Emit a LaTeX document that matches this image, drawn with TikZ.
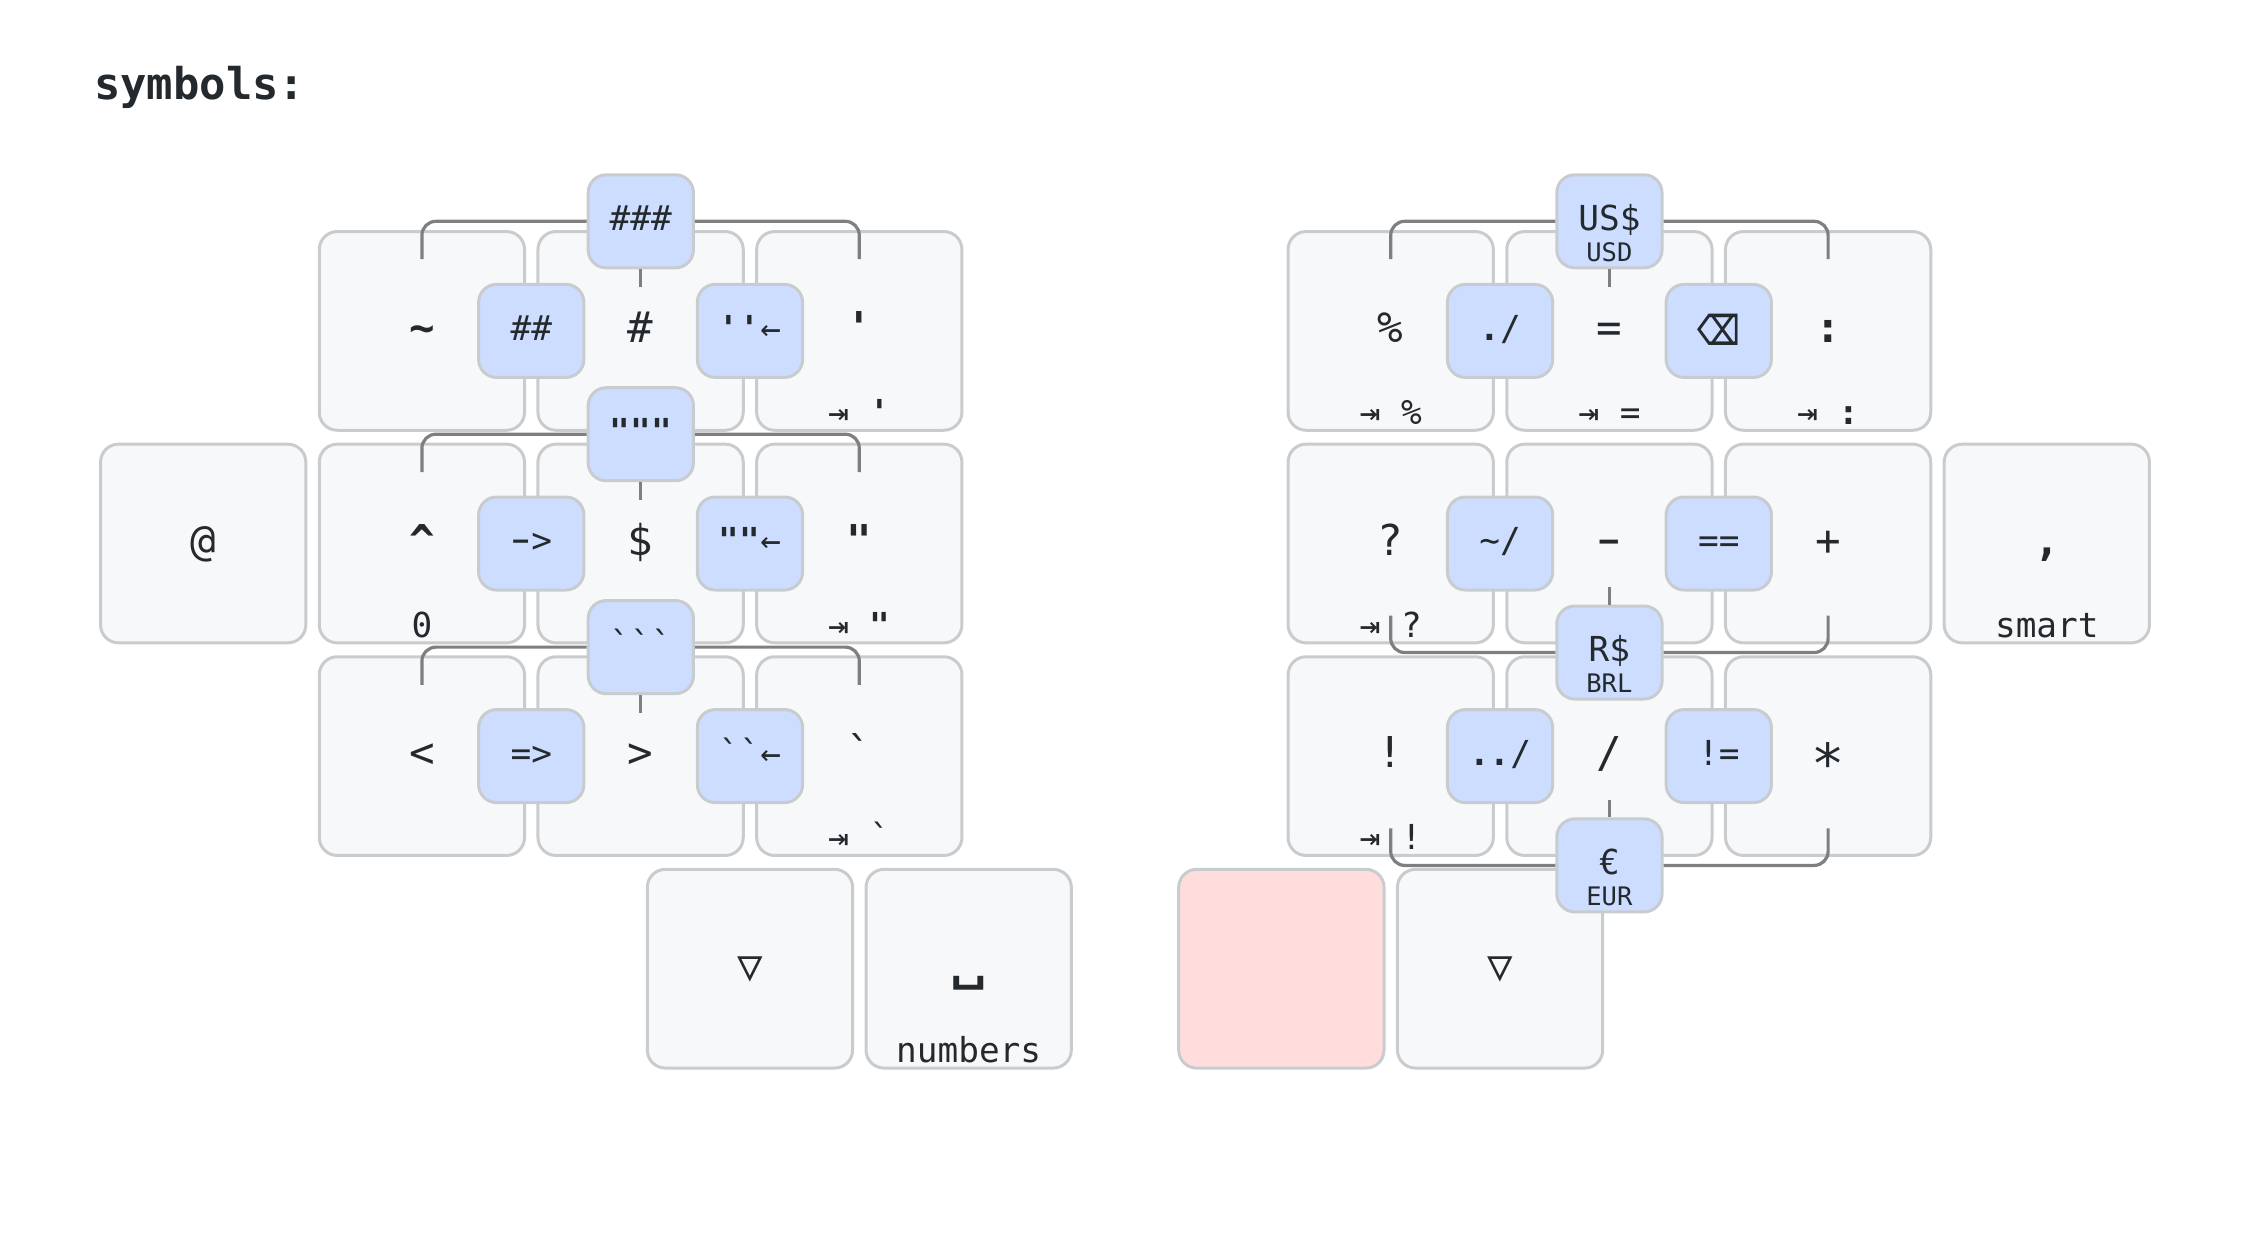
\documentclass[tikz,border=0pt]{standalone}
\usepackage{fontspec}
\usepackage{graphicx}
\usetikzlibrary{calc}
\newfontfamily\keyfont{DejaVu Sans Mono}
\newfontfamily\iconfont{DejaVu Sans}
\definecolor{keyfill}{HTML}{F6F8FA}
\definecolor{keyline}{HTML}{C9CCCF}
\definecolor{combofill}{HTML}{CCDDFF}
\definecolor{heldfill}{HTML}{FFDDDD}
\definecolor{wireline}{HTML}{7F7F7F}
\definecolor{legend}{HTML}{24292E}
\def\heavy#1{{\bfseries #1}}
\def\longdash{\makebox[.602em]{\scalebox{1.7}[1.15]{-}}}
\def\bigstar{\makebox[.602em]{\raisebox{-.36em}{\scalebox{1.3}{*}}}}
\tikzset{
	keycap/.style={draw=keyline, fill=keyfill, line width=3pt, rounded corners=18pt, inner sep=0pt,
		minimum width=205.3pt, minimum height=198.7pt, text=legend,
		font=\keyfont\fontsize{42.5}{50}\selectfont, text height=23.2pt, text depth=0pt},
	heldcap/.style={keycap, fill=heldfill},
	combocap/.style={draw=keyline, fill=combofill, line width=3pt, rounded corners=18pt, inner sep=0pt,
		minimum width=105.3pt, minimum height=93pt, text=legend,
		font=\keyfont\fontsize{34.4}{40}\selectfont, text height=18.8pt, text depth=0pt},
	holdtext/.style={anchor=base, inner sep=0pt, text=legend, font=\keyfont\fontsize{34.4}{40}\selectfont},
	subtext/.style={anchor=base, inner sep=0pt, text=legend, font=\keyfont\fontsize{25.5}{30}\selectfont},
	wire/.style={draw=wireline, line width=3.2pt},
	wirebend/.style={wire, rounded corners=14pt},
}

\begin{document}
\begin{tikzpicture}[x=1pt, y=-1pt]
	\useasboundingbox (0, 0) rectangle (2250, 1250);
	
	\node[anchor=base west, inner sep=0pt, text=legend, font=\keyfont\bfseries\fontsize{43.8}{50}\selectfont] (title) at (94, 99.3) {symbols:};
	
	%%%%% left hand %%%%%
	\node[keycap] (kTilde) at (421.9, 330.9) {\heavy{\textasciitilde}};
	\node[keycap] (kHash) at (640.6, 330.9) {\#};
	\node[keycap] (kApos) at (859.3, 330.9) {\heavy{'}};
	\node[keycap] (kAt) at (203.2, 543.5) {@};
	\node[keycap] (kCaret) at (421.9, 543.5) {\heavy{\textasciicircum}};
	\node[keycap] (kDollar) at (640.6, 543.5) {\$};
	\node[keycap] (kQuote) at (859.3, 543.5) {\heavy{"}};
	\node[keycap] (kLess) at (421.9, 756.1) {<};
	\node[keycap] (kMore) at (640.6, 756.1) {>};
	\node[keycap] (kGrave) at (859.3, 756.1) {`};
	\node[keycap] (kTrigL) at (749.95, 968.7) {▽};
	\node[keycap] (kSpace) at (968.65, 968.7) {\iconfont\heavy{\scalebox{1.2}[1]{␣}}};
	
	%%%%% right hand %%%%%
	\node[keycap] (kPercent) at (1390.7, 330.9) {\%};
	\node[keycap] (kEqual) at (1609.4, 330.9) {=};
	\node[keycap] (kColon) at (1828.1, 330.9) {\heavy{:}};
	\node[keycap] (kQuestion) at (1390.7, 543.5) {?};
	\node[keycap] (kMinus) at (1609.4, 543.5) {\longdash};
	\node[keycap] (kPlus) at (1828.1, 543.5) {+};
	\node[keycap] (kComma) at (2046.8, 543.5) {\heavy{,}};
	\node[keycap] (kBang) at (1390.7, 756.1) {!};
	\node[keycap] (kSlash) at (1609.4, 756.1) {/};
	\node[keycap] (kStar) at (1828.1, 756.1) {\bigstar};
	\node[heldcap] (kHeld) at (1281.35, 968.7) {};
	\node[keycap] (kTrigR) at (1500.05, 968.7) {▽};
	
	%%%%% hold legends %%%%%
	\node[holdtext] (hApos) at ($(kApos)+(0, 93.6)$) {⇥ \heavy{'}};
	\node[holdtext] (hZero) at ($(kCaret)+(0, 93.6)$) {0};
	\node[holdtext] (hQuote) at ($(kQuote)+(0, 93.6)$) {⇥ \heavy{"}};
	\node[holdtext] (hGrave) at ($(kGrave)+(0, 93.6)$) {⇥ `};
	\node[holdtext] (hSpace) at ($(kSpace)+(0, 93.6)$) {numbers};
	\node[holdtext] (hPercent) at ($(kPercent)+(0, 93.6)$) {⇥ \%};
	\node[holdtext] (hEqual) at ($(kEqual)+(0, 93.6)$) {⇥ =};
	\node[holdtext] (hColon) at ($(kColon)+(0, 93.6)$) {⇥ \heavy{:}};
	\node[holdtext] (hQuestion) at ($(kQuestion)+(0, 93.6)$) {⇥ ?};
	\node[holdtext] (hComma) at ($(kComma)+(0, 93.6)$) {smart};
	\node[holdtext] (hBang) at ($(kBang)+(0, 93.6)$) {⇥ !};
	
	%%%%% combos %%%%%
	\node[combocap] (cTriple) at (640.8, 221.3) {\#\#\#};
	\node[combocap] (cDouble) at (531.25, 330.9) {\#\#};
	\node[combocap] (cAposBack) at (749.95, 330.9) {\heavy{''}←};
	\node[combocap] (cQuotes) at (640.8, 434.2) {\heavy{"""}};
	\node[combocap] (cArrow) at (531.25, 543.5) {\longdash>};
	\node[combocap] (cQuoteBack) at (749.95, 543.5) {\heavy{""}←};
	\node[combocap] (cGraves) at (640.8, 647.1) {```};
	\node[combocap] (cFat) at (531.25, 756.1) {=>};
	\node[combocap] (cGraveBack) at (749.95, 756.1) {``←};
	
	\node[combocap] (cUsd) at (1609.4, 221.3) {US\$};
	\node[combocap] (cHere) at (1500.05, 330.9) {\heavy{.}/};
	\node[combocap] (cBksp) at (1718.75, 330.9) {\iconfont\bfseries\raisebox{-.14em}{\scalebox{.88}[1.2]{⌫}}};
	\node[combocap] (cHome) at (1500.05, 543.5) {\textasciitilde/};
	\node[combocap] (cSame) at (1718.75, 543.5) {==};
	\node[combocap] (cBrl) at (1609.4, 652.5) {R\$};
	\node[combocap] (cUp) at (1500.05, 756.1) {\heavy{..}/};
	\node[combocap] (cDiff) at (1718.75, 756.1) {!=};
	\node[combocap] (cEur) at (1609.4, 865.4) {€};
	
	\node[subtext] (sUsd) at ($(cUsd)+(0, 40.2)$) {USD};
	\node[subtext] (sBrl) at ($(cBrl)+(0, 40.2)$) {BRL};
	\node[subtext] (sEur) at ($(cEur)+(0, 40.2)$) {EUR};
	
	%%%%% combo wires %%%%%
	\coordinate (wTripleA) at (421.9, 259);
	\coordinate (wTripleB) at (640.8, 287.3);
	\coordinate (wTripleC) at (859.3, 259);
	\draw[wirebend] (cTriple.west) -| (wTripleA);
	\draw[wire] (cTriple.south) -- (wTripleB);
	\draw[wirebend] (cTriple.east) -| (wTripleC);
	
	\coordinate (wQuotesA) at (421.9, 472);
	\coordinate (wQuotesB) at (640.8, 500.2);
	\coordinate (wQuotesC) at (859.3, 472);
	\draw[wirebend] (cQuotes.west) -| (wQuotesA);
	\draw[wire] (cQuotes.south) -- (wQuotesB);
	\draw[wirebend] (cQuotes.east) -| (wQuotesC);
	
	\coordinate (wGravesA) at (421.9, 684.8);
	\coordinate (wGravesB) at (640.8, 713.1);
	\coordinate (wGravesC) at (859.3, 684.8);
	\draw[wirebend] (cGraves.west) -| (wGravesA);
	\draw[wire] (cGraves.south) -- (wGravesB);
	\draw[wirebend] (cGraves.east) -| (wGravesC);
	
	\coordinate (wUsdA) at (1390.7, 259);
	\coordinate (wUsdB) at (1609.4, 287.3);
	\coordinate (wUsdC) at (1828.1, 259);
	\draw[wirebend] (cUsd.west) -| (wUsdA);
	\draw[wire] (cUsd.south) -- (wUsdB);
	\draw[wirebend] (cUsd.east) -| (wUsdC);
	
	\coordinate (wBrlA) at (1390.7, 615.7);
	\coordinate (wBrlB) at (1609.4, 587.3);
	\coordinate (wBrlC) at (1828.1, 615.7);
	\draw[wirebend] (cBrl.west) -| (wBrlA);
	\draw[wire] (cBrl.north) -- (wBrlB);
	\draw[wirebend] (cBrl.east) -| (wBrlC);
	
	\coordinate (wEurA) at (1390.7, 828.3);
	\coordinate (wEurB) at (1609.4, 800);
	\coordinate (wEurC) at (1828.1, 828.3);
	\draw[wirebend] (cEur.west) -| (wEurA);
	\draw[wire] (cEur.north) -- (wEurB);
	\draw[wirebend] (cEur.east) -| (wEurC);
\end{tikzpicture}
\end{document}
